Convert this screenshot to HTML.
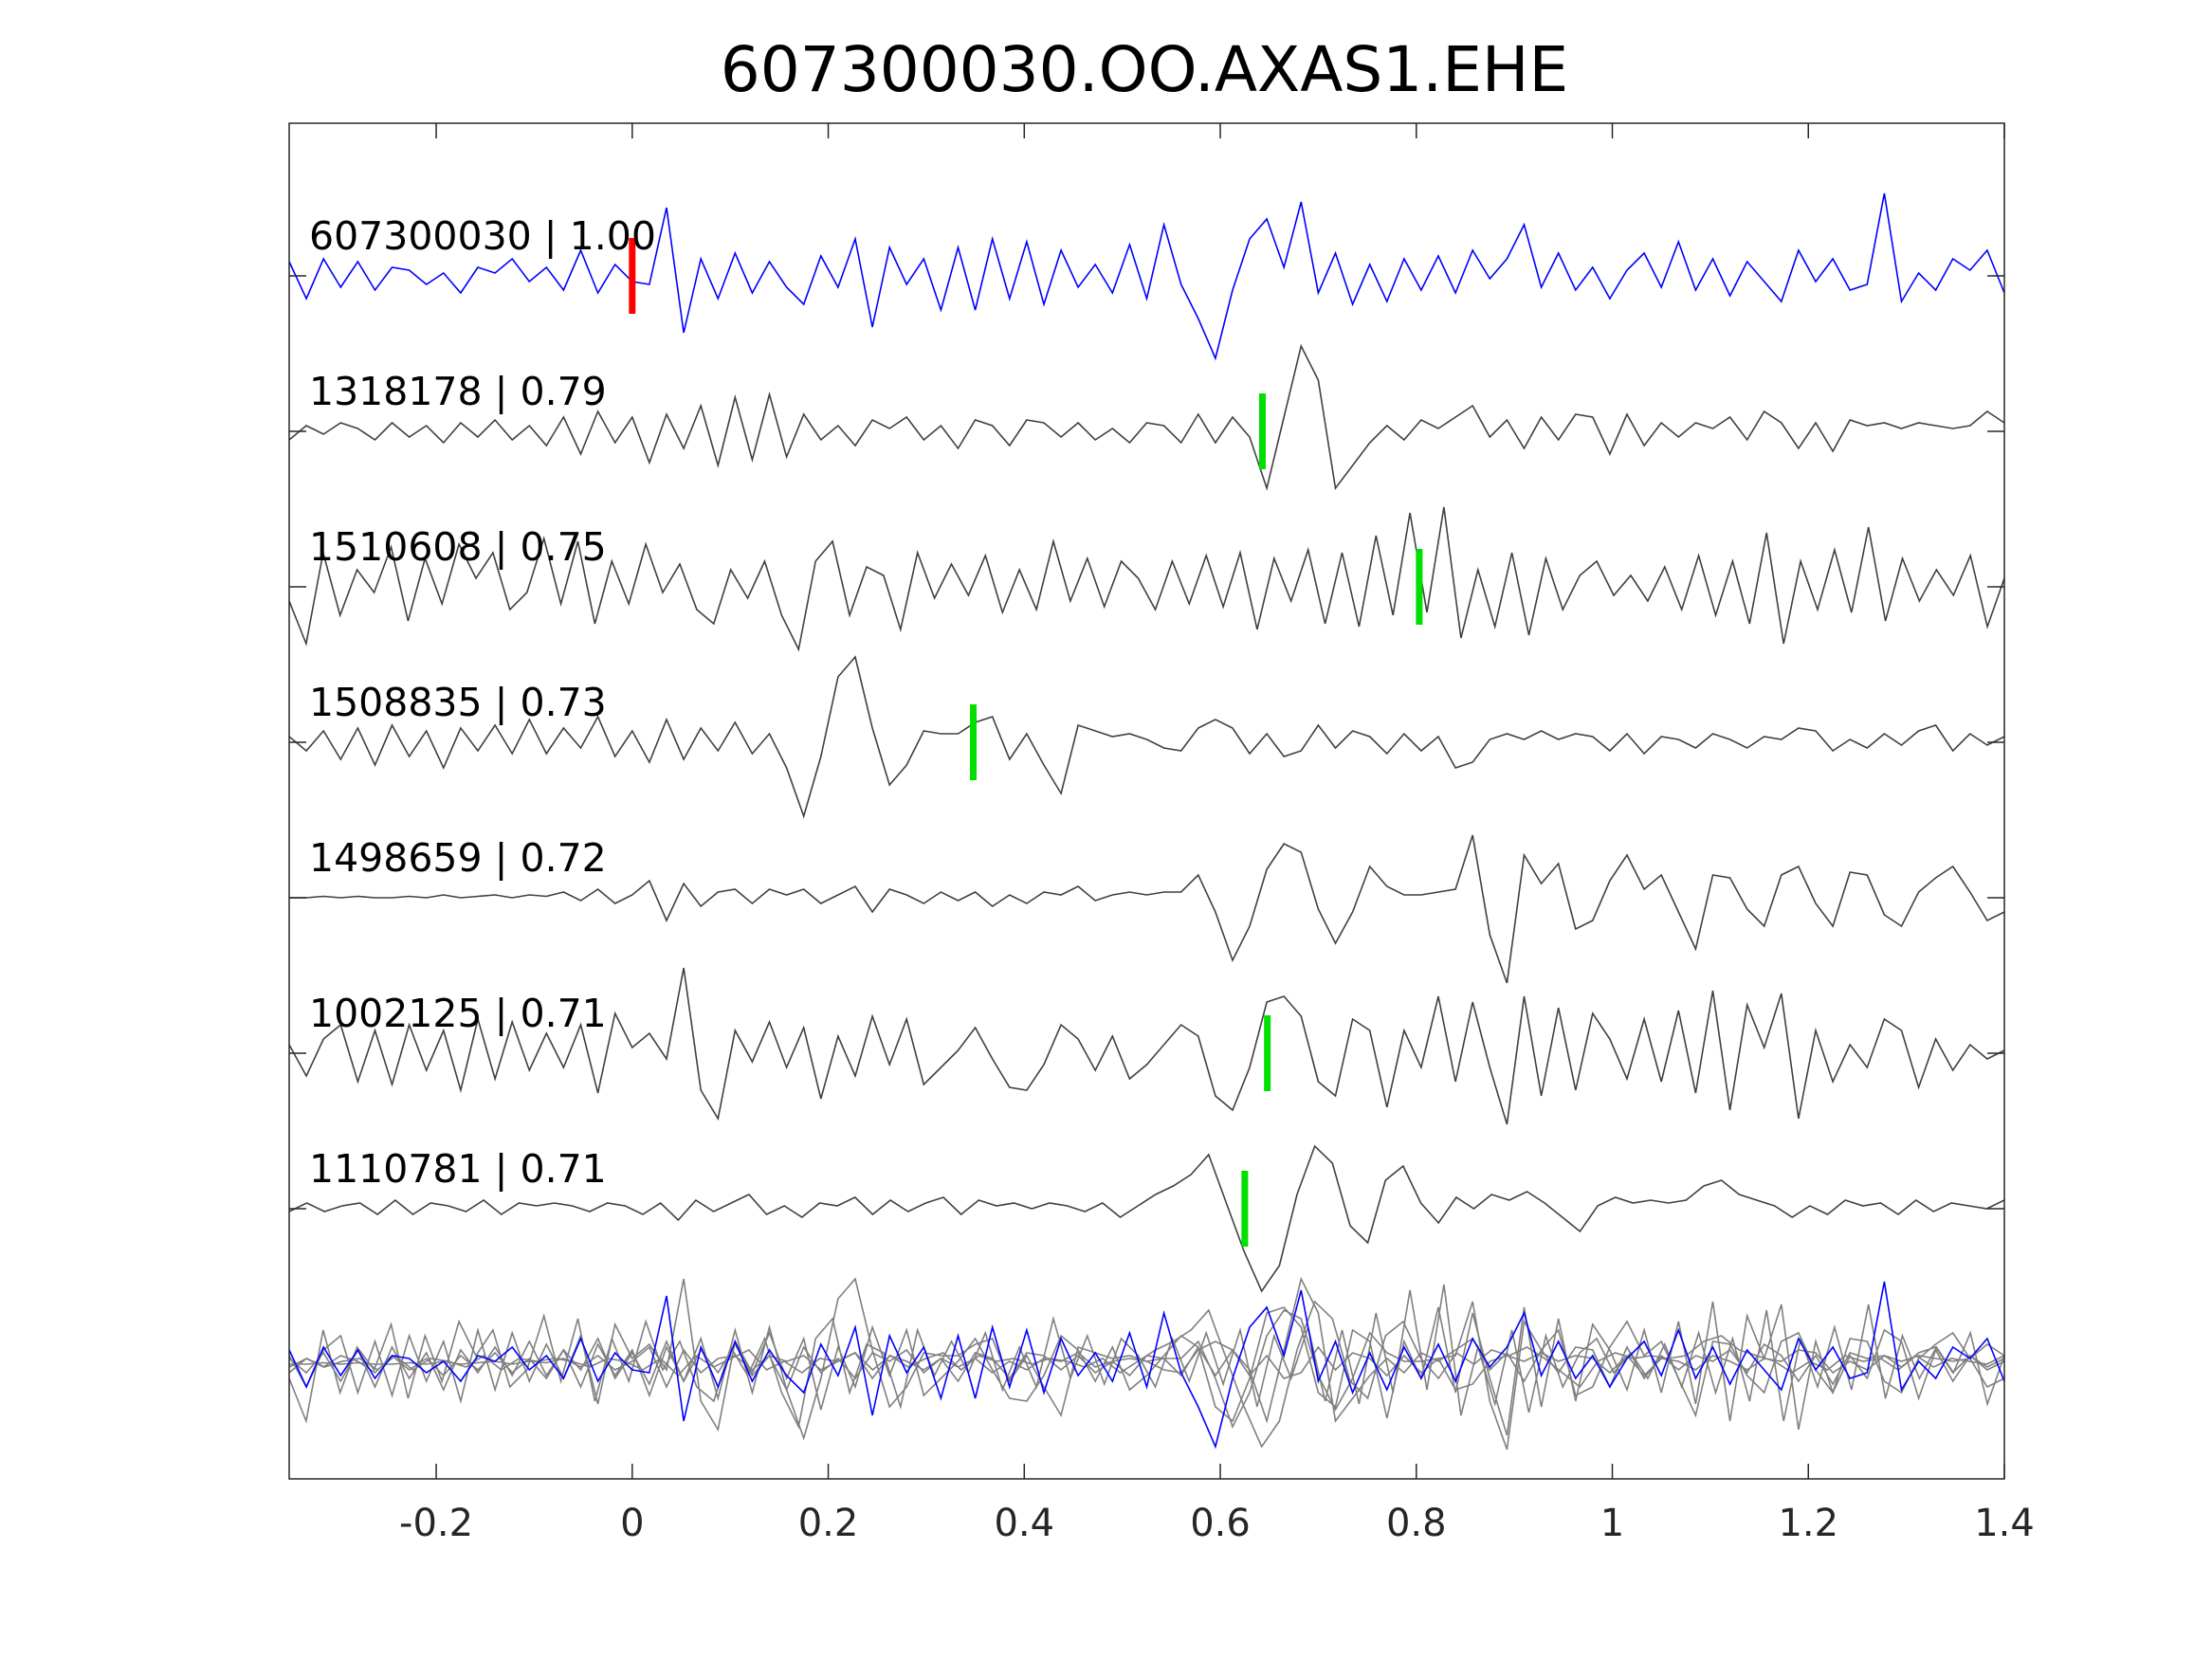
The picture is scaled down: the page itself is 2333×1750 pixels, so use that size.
<!DOCTYPE html>
<html><head><meta charset="utf-8">
<style>
html,body{margin:0;padding:0;background:#fff;}
svg{display:block;font-family:"DejaVu Sans","Liberation Sans",sans-serif;}
</style></head>
<body>
<svg id="chart" width="2333" height="1750" viewBox="0 0 2333 1750">
<rect width="2333" height="1750" fill="#fff"/>
<text x="1207" y="96" font-size="66" text-anchor="middle" fill="#000">607300030.OO.AXAS1.EHE</text>
<g id="plot"></g>
</svg>
<script>
const xTicks = [-0.2, 0, 0.2, 0.4, 0.6, 0.8, 1, 1.2, 1.4];
const xTickLabels = ["-0.2","0","0.2","0.4","0.6","0.8","1","1.2","1.4"];
const traceLabels = ["607300030 | 1.00","1318178 | 0.79","1510608 | 0.75","1508835 | 0.73","1498659 | 0.72","1002125 | 0.71","1110781 | 0.71"];
const pickTimes = [0, 0.643, 0.803, 0.348, null, 0.648, 0.625];
const trace0 = [0.5,-0.8,0.6,-0.4,0.5,-0.5,0.3,0.2,-0.3,0.1,-0.6,0.3,0.1,0.6,-0.2,0.3,-0.5,0.9,-0.6,0.4,-0.2,-0.3,2.4,-2.0,0.6,-0.8,0.8,-0.6,0.5,-0.4,-1.0,0.7,-0.4,1.3,-1.8,1.0,-0.3,0.6,-1.2,1.0,-1.2,1.3,-0.8,1.2,-1.0,0.9,-0.4,0.4,-0.6,1.1,-0.8,1.8,-0.3,-1.5,-2.9,-0.5,1.3,2.0,0.3,2.6,-0.6,0.8,-1.0,0.4,-0.9,0.6,-0.5,0.7,-0.6,0.9,-0.1,0.6,1.8,-0.4,0.8,-0.5,0.3,-0.8,0.2,0.8,-0.4,1.2,-0.5,0.6,-0.7,0.5,-0.2,-0.9,0.9,-0.2,0.6,-0.5,-0.3,2.9,-0.9,0.1,-0.5,0.6,0.2,0.9,-0.6];
const trace1 = [-0.3,0.2,-0.1,0.3,0.1,-0.3,0.3,-0.2,0.2,-0.4,0.3,-0.2,0.4,-0.3,0.2,-0.5,0.5,-0.8,0.7,-0.4,0.5,-1.1,0.6,-0.6,0.9,-1.2,1.2,-1.0,1.3,-0.9,0.6,-0.3,0.2,-0.5,0.4,0.1,0.5,-0.3,0.2,-0.6,0.4,0.2,-0.5,0.4,0.3,-0.2,0.3,-0.3,0.1,-0.4,0.3,0.2,-0.4,0.6,-0.4,0.5,-0.2,-2.0,0.5,3.0,1.8,-2.0,-1.2,-0.4,0.2,-0.3,0.4,0.1,0.5,0.9,-0.2,0.4,-0.6,0.5,-0.3,0.6,0.5,-0.8,0.6,-0.5,0.3,-0.2,0.3,0.1,0.5,-0.3,0.7,0.3,-0.6,0.3,-0.7,0.4,0.2,0.3,0.1,0.3,0.2,0.1,0.2,0.7,0.3];
const trace2 = [-0.5,-2.0,1.2,-1.0,0.6,-0.2,1.4,-1.2,1.0,-0.6,1.5,0.3,1.2,-0.8,-0.2,1.7,-0.6,1.6,-1.3,0.9,-0.6,1.5,-0.2,0.8,-0.8,-1.3,0.6,-0.4,0.9,-1.0,-2.2,0.9,1.6,-1.0,0.7,0.4,-1.5,1.2,-0.4,0.8,-0.3,1.1,-0.9,0.6,-0.8,1.6,-0.5,1.0,-0.7,0.9,0.3,-0.8,0.9,-0.6,1.1,-0.7,1.2,-1.5,1.0,-0.5,1.3,-1.3,1.2,-1.4,1.8,-1.0,2.6,-0.9,2.8,-1.8,0.6,-1.4,1.2,-1.7,1.0,-0.8,0.4,0.9,-0.3,0.4,-0.5,0.7,-0.8,1.1,-1.0,0.9,-1.3,1.9,-2.0,0.9,-0.8,1.3,-0.9,2.1,-1.2,1.0,-0.5,0.6,-0.3,1.1,-1.4,0.3];
const trace3 = [0.2,-0.3,0.4,-0.6,0.5,-0.8,0.6,-0.5,0.4,-0.9,0.5,-0.3,0.6,-0.4,0.8,-0.4,0.5,-0.2,0.9,-0.5,0.4,-0.7,0.8,-0.6,0.5,-0.3,0.7,-0.4,0.3,-0.9,-2.6,-0.5,2.3,3.0,0.5,-1.5,-0.8,0.4,0.3,0.3,0.7,0.9,-0.6,0.3,-0.8,-1.8,0.6,0.4,0.2,0.3,0.1,-0.2,-0.3,0.5,0.8,0.5,-0.4,0.3,-0.5,-0.3,0.6,-0.2,0.4,0.2,-0.4,0.3,-0.3,0.2,-0.9,-0.7,0.1,0.3,0.1,0.4,0.1,0.3,0.2,-0.3,0.3,-0.4,0.2,0.1,-0.2,0.3,0.1,-0.2,0.2,0.1,0.5,0.4,-0.3,0.1,-0.2,0.3,-0.1,0.4,0.6,-0.3,0.3,-0.1,0.2];
const trace4 = [0,0,0.05,0,0.05,0,0,0.05,0,0.1,0,0.05,0.1,0,0.1,0.05,0.2,-0.1,0.3,-0.2,0.1,0.6,-0.8,0.5,-0.3,0.2,0.3,-0.2,0.3,0.1,0.3,-0.2,0.1,0.4,-0.5,0.3,0.1,-0.2,0.2,-0.1,0.2,-0.3,0.1,-0.2,0.2,0.1,0.4,-0.1,0.1,0.2,0.1,0.2,0.2,0.8,-0.5,-2.2,-1.0,1.0,1.9,1.6,-0.4,-1.6,-0.5,1.1,0.4,0.1,0.1,0.2,0.3,2.2,-1.3,-3.0,1.5,0.5,1.2,-1.1,-0.8,0.6,1.5,0.3,0.8,-0.5,-1.8,0.8,0.7,-0.4,-1.0,0.8,1.1,-0.2,-1.0,0.9,0.8,-0.6,-1.0,0.2,0.7,1.1,0.2,-0.8,-0.5];
const trace5 = [0.3,-0.8,0.5,1.0,-1.0,0.8,-1.1,1.0,-0.6,0.8,-1.3,1.2,-0.9,1.1,-0.6,0.7,-0.5,1.0,-1.4,1.4,0.2,0.7,-0.2,3.0,-1.3,-2.3,0.8,-0.3,1.1,-0.5,0.9,-1.6,0.6,-0.8,1.3,-0.4,1.2,-1.1,-0.5,0.1,0.9,-0.2,-1.2,-1.3,-0.4,1.0,0.5,-0.6,0.6,-0.9,-0.4,0.3,1.0,0.6,-1.5,-2.0,-0.5,1.8,2.0,1.3,-1.0,-1.5,1.2,0.8,-1.9,0.8,-0.5,2.0,-1.0,1.8,-0.5,-2.5,2.0,-1.5,1.6,-1.3,1.4,0.5,-0.9,1.2,-1.0,1.5,-1.4,2.2,-2.0,1.7,0.2,2.1,-2.3,0.8,-1.0,0.3,-0.5,1.2,0.8,-1.2,0.5,-0.6,0.3,-0.2,0.1];
const trace6 = [-0.1,0.2,-0.1,0.1,0.2,-0.2,0.3,-0.2,0.2,0.1,-0.1,0.3,-0.2,0.2,0.1,0.2,0.1,-0.1,0.2,0.1,-0.2,0.2,-0.4,0.3,-0.1,0.2,0.5,-0.2,0.1,-0.3,0.2,0.1,0.4,-0.2,0.3,-0.1,0.2,0.4,-0.2,0.3,0.1,0.2,0.0,0.2,0.1,-0.1,0.2,-0.3,0.1,0.5,0.8,1.2,1.9,0.2,-1.5,-2.9,-2.0,0.5,2.2,1.6,-0.6,-1.2,1.0,1.5,0.2,-0.5,0.4,0.0,0.5,0.3,0.6,0.2,-0.3,-0.8,0.1,0.4,0.2,0.3,0.2,0.3,0.8,1.0,0.5,0.3,0.1,-0.3,0.1,-0.2,0.3,0.1,0.2,-0.2,0.3,-0.1,0.2,0.1,0.0,0.3];
const traces = [trace0,trace1,trace2,trace3,trace4,trace5,trace6];

const NS = "http://www.w3.org/2000/svg";
const g = document.getElementById('plot');
const L = 305, R = 2114, T = 130, B = 1560;
const xMin = -0.35, xMax = 1.4;
function xs(t){ return L + (t - xMin) / (xMax - xMin) * (R - L); }
const firstBase = 291, spacing = 164, unit = 30;
function baseY(i){ return firstBase + i * spacing; }
function ys(i, v){ return baseY(i) - v * unit; }
function mk(tag, attrs){ const e = document.createElementNS(NS, tag); for (const k in attrs) e.setAttribute(k, attrs[k]); g.appendChild(e); return e; }

function tracePath(arr, row){
  const n = arr.length;
  let d = "";
  arr.forEach((v, i) => {
    const t = xMin + i * (xMax - xMin) / (n - 1);
    d += (i ? "L" : "M") + xs(t).toFixed(1) + "," + ys(row, v).toFixed(1);
  });
  return d;
}

traces.forEach((arr, i) => {
  const p = mk('path', {d: tracePath(arr, i), fill: 'none', stroke: i === 0 ? '#0000ff' : '#404040', 'stroke-width': 1.6});
  
  
});
[1,2,3,4,5,6,0].forEach(i => {
  const p = mk('path', {d: tracePath(traces[i], 7), fill: 'none', stroke: i === 0 ? '#0000ff' : '#808080', 'stroke-width': 1.6});
  
  
});
pickTimes.forEach((t, i) => {
  if (t === null) return;
  const r = mk('line', {x1: xs(t), x2: xs(t), y1: baseY(i) - 40, y2: baseY(i) + 40, stroke: i === 0 ? '#ff0000' : '#00e000', 'stroke-width': 7});
  
  
});
traceLabels.forEach((s, i) => {
  const tx = mk('text', {x: 326, y: baseY(i) - 28, 'font-size': 41, fill: '#000'});
  tx.textContent = s;
  
  
});
const box = mk('rect', {x: L, y: T, width: R - L, height: B - T, fill: 'none', stroke: '#262626', 'stroke-width': 1.5});


xTicks.forEach((t, i) => {
  const x = xs(t);
  const a = mk('line', {x1: x, x2: x, y1: B, y2: B - 16, stroke: '#262626', 'stroke-width': 1.5});
  
  
  const b = mk('line', {x1: x, x2: x, y1: T, y2: T + 16, stroke: '#262626', 'stroke-width': 1.5});
  
  
  const lb = mk('text', {x: x, y: 1620, 'font-size': 40, 'text-anchor': 'middle', fill: '#262626'});
  lb.textContent = xTickLabels[i];
  
  
});
for (let i = 0; i < 7; i++) {
  const y = baseY(i);
  const a = mk('line', {x1: L, x2: L + 18, y1: y, y2: y, stroke: '#262626', 'stroke-width': 1.5});
  
  
  const b = mk('line', {x1: R, x2: R - 18, y1: y, y2: y, stroke: '#262626', 'stroke-width': 1.5});
  
  
}
</script>
</body></html>
